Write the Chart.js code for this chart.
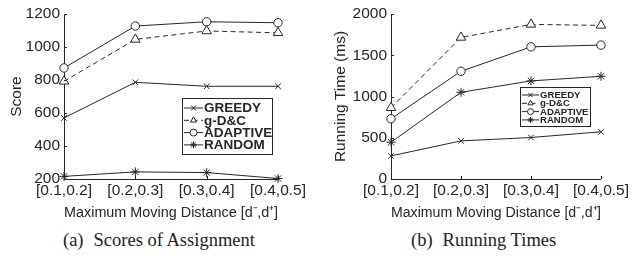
<!DOCTYPE html>
<html>
<head>
<meta charset="utf-8">
<script src="https://cdn.jsdelivr.net/npm/chart.js@4"></script>
<style>
  body { margin: 0; background: #fff; }
  #wrap { position: relative; width: 631px; height: 258px; }
  .box { position: absolute; top: 0; height: 225px; }
  .cap { position: absolute; top: 230px; font-family: "Liberation Serif", "Times New Roman", serif;
         font-size: 18.5px; color: #222; white-space: nowrap; }
  .cap span { margin-right: 10px; }
</style>
</head>
<body>
<div id="wrap">
  <div class="box" style="left:0; width:315px;"><canvas id="scoreChart"></canvas></div>
  <div class="box" style="left:315px; width:316px;"><canvas id="timeChart"></canvas></div>
  <div class="cap" style="left:63px;"><span>(a)</span>Scores of Assignment</div>
  <div class="cap" style="left:411px;"><span>(b)</span>Running Times</div>
</div>
<script>
// Data
// =======================================================
var categories = ["[0.1,0.2]", "[0.2,0.3]", "[0.3,0.4]", "[0.4,0.5]"];
var seriesNames = ["GREEDY", "g-D&C", "ADAPTIVE", "RANDOM"];

var scoreGreedy = [570, 786, 762, 762];
var scoreGdc = [792, 1046, 1097, 1086];
var scoreAdaptive = [873, 1127, 1153, 1147];
var scoreRandom = [216, 243, 239, 203];
var scoreTicks = [200, 400, 600, 800, 1000, 1200];

var timeGreedy = [280, 462, 503, 572];
var timeGdc = [864, 1716, 1874, 1862];
var timeAdaptive = [730, 1306, 1602, 1623];
var timeRandom = [446, 1051, 1189, 1245];
var timeTicks = [0, 500, 1000, 1500, 2000];

var ink = "#262626";
var sans = "'Liberation Sans', Arial, Helvetica, sans-serif";

// Legend drawn inside the plot area (MATLAB style)
// =======================================================
var boxLegend = {
    id: "boxLegend",
    afterDraw: function (chart, args, opts) {
        var ctx = chart.ctx;
        ctx.save();
        ctx.fillStyle = "#fff";
        ctx.fillRect(opts.x, opts.y, opts.w, opts.h);
        ctx.strokeStyle = ink;
        ctx.lineWidth = 1;
        ctx.strokeRect(opts.x + 0.5, opts.y + 0.5, opts.w, opts.h);
        ctx.font = "bold " + opts.font + "px " + sans;
        ctx.textBaseline = "middle";
        chart.data.datasets.forEach(function (ds, i) {
            var y = opts.y + opts.first + i * opts.step;
            ctx.strokeStyle = ink;
            ctx.lineWidth = 1;
            ctx.setLineDash(ds.borderDash || []);
            ctx.beginPath();
            ctx.moveTo(opts.x + 2, y);
            ctx.lineTo(opts.x + 2 + opts.line, y);
            ctx.stroke();
            ctx.setLineDash([]);
            ctx.fillStyle = "#fff";
            Chart.helpers.drawPoint(ctx, {
                pointStyle: ds.pointStyle, radius: opts.r, rotation: 0, borderWidth: 1
            }, opts.x + 2 + opts.line / 2, y);
            ctx.fillStyle = ink;
            ctx.fillText(ds.label, opts.x + 3 + opts.line, y + 0.5);
        });
        ctx.restore();
    }
};

// Small inward tick marks on both axes
// =======================================================
var innerTicks = {
    id: "innerTicks",
    afterDraw: function (chart) {
        var ctx = chart.ctx;
        var xs = chart.scales.x, ys = chart.scales.y;
        var a = chart.chartArea;
        ctx.save();
        ctx.strokeStyle = ink;
        ctx.lineWidth = 1;
        ctx.beginPath();
        ys.ticks.forEach(function (t, i) {
            var py = Math.round(ys.getPixelForTick(i)) + 0.5;
            ctx.moveTo(a.left, py);
            ctx.lineTo(a.left + 3, py);
        });
        xs.ticks.forEach(function (t, i) {
            var px = Math.round(xs.getPixelForTick(i)) + 0.5;
            ctx.moveTo(px, a.bottom);
            ctx.lineTo(px, a.bottom - 3);
        });
        ctx.stroke();
        ctx.restore();
    }
};

function makeSet(label, data, style, dashed, r) {
    return {
        label: label,
        data: data,
        borderColor: ink,
        borderWidth: 1,
        borderDash: dashed ? [5, 3.5] : [],
        pointStyle: style,
        pointRadius: r,
        pointHoverRadius: r,
        pointBorderColor: ink,
        pointBackgroundColor: "#fff",
        pointBorderWidth: 1,
        tension: 0,
        clip: false
    };
}

function makeChart(id, sets, ticks, yTitle, yWidth, titlePad, padRight, legend) {
    return new Chart(document.getElementById(id), {
        type: "line",
        data: { labels: categories, datasets: sets },
        plugins: [boxLegend, innerTicks],
        options: {
            responsive: true,
            maintainAspectRatio: false,
            animation: false,
            layout: { padding: { left: 0, right: padRight, top: 14, bottom: 0 } },
            plugins: {
                legend: { display: false },
                tooltip: { enabled: false },
                boxLegend: legend
            },
            scales: {
                x: {
                    offset: false,
                    grid: { display: false, drawTicks: false },
                    border: { display: true, color: ink, width: 1 },
                    ticks: { color: ink, padding: 2, maxRotation: 0, autoSkip: false,
                             font: { family: sans, size: 15.5 } },
                    title: { display: true, text: "Maximum Moving Distance [d\u207B,d\u207A]", color: ink,
                             font: { family: sans, size: 15.5 }, padding: { top: 0, bottom: 3 } },
                    afterFit: function (s) { s.height = 225 - 179; }
                },
                y: {
                    min: ticks[0],
                    max: ticks[ticks.length - 1],
                    grid: { display: false, drawTicks: false },
                    border: { display: true, color: ink, width: 1 },
                    afterBuildTicks: function (s) {
                        s.ticks = ticks.map(function (v) { return { value: v }; });
                    },
                    ticks: { color: ink, padding: 4, font: { family: sans, size: 15.5 },
                             callback: function (v) { return String(v); } },
                    title: { display: true, text: yTitle, color: ink,
                             font: { family: sans, size: 15.5 }, padding: { top: titlePad, bottom: 0 } },
                    afterFit: function (s) { s.width = yWidth; }
                }
            }
        }
    });
}

var scoreSets = [
    makeSet(seriesNames[0], scoreGreedy, "crossRot", false, 4),
    makeSet(seriesNames[1], scoreGdc, "triangle", true, 5.5),
    makeSet(seriesNames[2], scoreAdaptive, "circle", false, 4.2),
    makeSet(seriesNames[3], scoreRandom, "star", false, 4.5)
];
var timeSets = [
    makeSet(seriesNames[0], timeGreedy, "crossRot", false, 4),
    makeSet(seriesNames[1], timeGdc, "triangle", true, 5.5),
    makeSet(seriesNames[2], timeAdaptive, "circle", false, 4.2),
    makeSet(seriesNames[3], timeRandom, "star", false, 4.5)
];

makeChart("scoreChart", scoreSets, scoreTicks, "Score", 64, 7, 37,
    { x: 182, y: 98, w: 90, h: 56, first: 10, step: 12.3, font: 13.5, line: 19, r: 3.5 });
makeChart("timeChart", timeSets, timeTicks, "Running Time (ms)", 76, 16, 28,
    { x: 205, y: 87, w: 70, h: 39, first: 8, step: 8.3, font: 9.6, line: 17, r: 3 });
</script>
</body>
</html>
